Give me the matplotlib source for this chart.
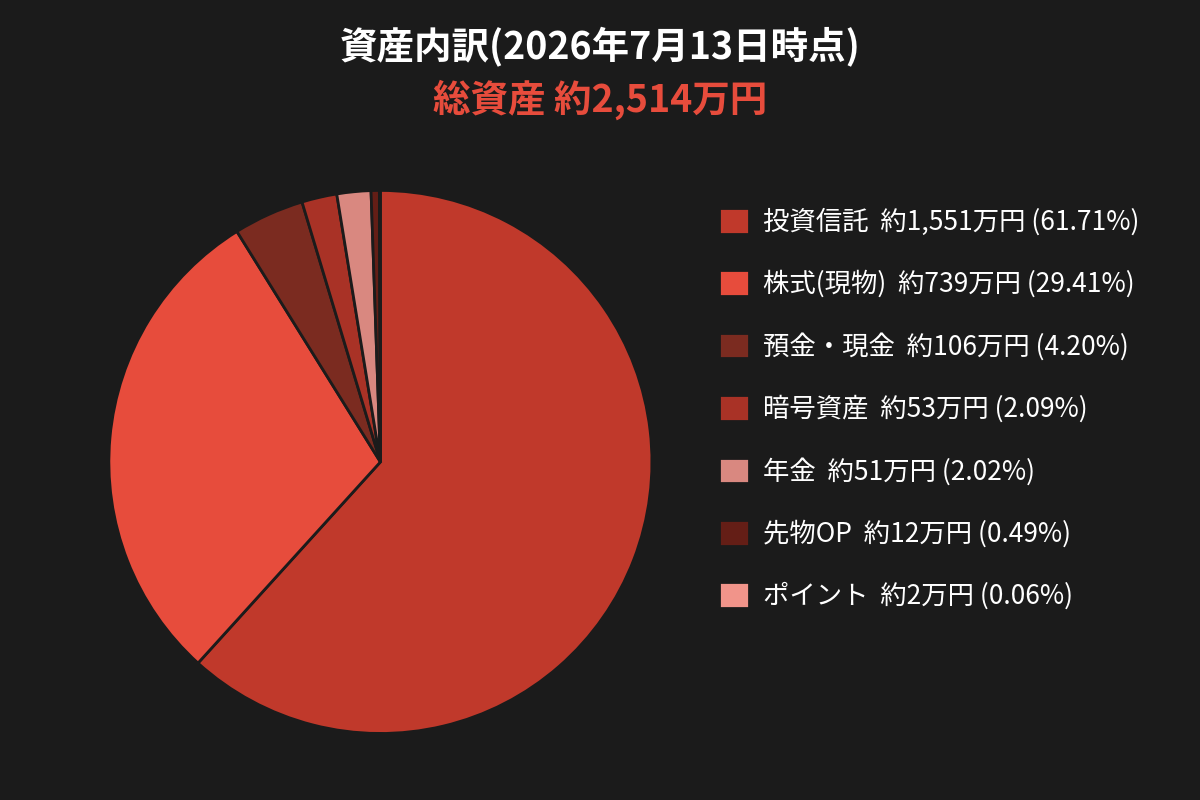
#!/usr/bin/env python3
"""Asset breakdown pie chart (dark theme)."""

import matplotlib
matplotlib.use("Agg")
import matplotlib.pyplot as plt

plt.rcParams["font.family"] = ["Noto Sans CJK JP", "DejaVu Sans"]

BG = "#1b1b1b"

categories = ["投資信託", "株式(現物)", "預金・現金", "暗号資産", "年金", "先物OP", "ポイント"]
amounts_man = [1551, 739, 106, 53, 51, 12, 2]
percents = [61.71, 29.41, 4.20, 2.09, 2.02, 0.49, 0.06]
colors = ["#c0392b", "#e74c3c", "#7b2b20", "#a93226", "#d98880", "#641e16", "#f1948a"]

title = "資産内訳(2026年7月13日時点)"
total_label = "総資産 約2,514万円"

fig = plt.figure(figsize=(12, 8), dpi=100, facecolor=BG)
ax = fig.add_axes([0.093, 0.0863, 0.448, 0.6725])
ax.set_facecolor(BG)

wedges, _ = ax.pie(
    percents,
    colors=colors,
    startangle=90,
    counterclock=False,
    wedgeprops={"edgecolor": BG, "linewidth": 2},
)
ax.set_xlim(-0.99, 0.99)
ax.set_ylim(-0.99, 0.99)
ax.set_aspect("equal")

labels = [
    f"{name}  約{amount:,}万円 ({pct:.2f}%)"
    for name, amount, pct in zip(categories, amounts_man, percents)
]
fig.legend(
    wedges,
    labels,
    loc="upper left",
    bbox_to_anchor=(719 / 1200, (800 - 208) / 800),
    frameon=False,
    borderpad=0,
    borderaxespad=0,
    fontsize=19,
    labelcolor="white",
    handlelength=1.12,
    handleheight=1.12,
    handletextpad=0.55,
    labelspacing=1.31,
)

fig.text(0.5, 1 - 47 / 800, title, ha="center", va="center",
         fontsize=27, fontweight="bold", color="white")
fig.text(0.5, 1 - 100 / 800, total_label, ha="center", va="center",
         fontsize=27, fontweight="bold", color="#e74c3c")

fig.savefig("out.png", facecolor=BG)
